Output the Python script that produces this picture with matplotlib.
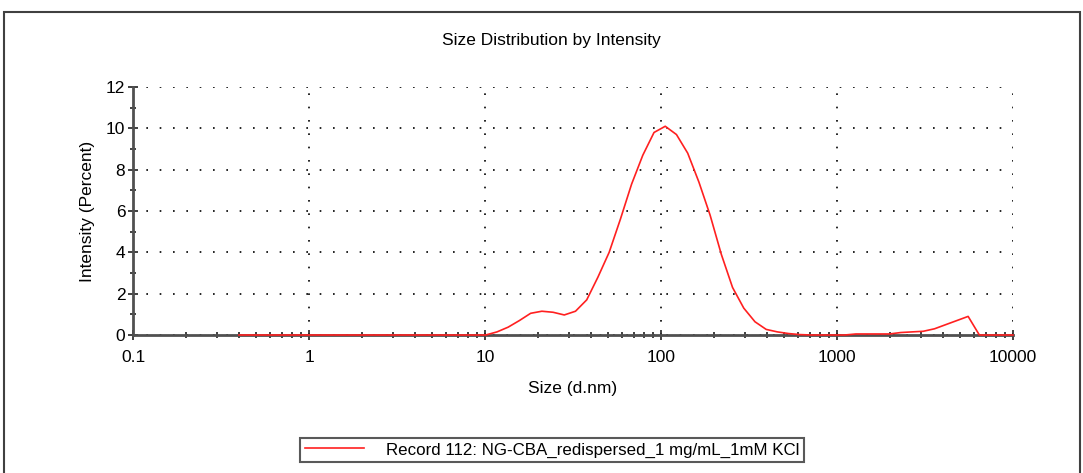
import matplotlib
matplotlib.use("Agg")
import matplotlib.pyplot as plt
from matplotlib.patches import Rectangle
from matplotlib.ticker import FixedLocator, NullFormatter, FixedFormatter

plt.rcParams['font.family'] = ['Liberation Sans', 'DejaVu Sans']

title = "Size Distribution by Intensity"
xlabel = "Size (d.nm)"
ylabel = "Intensity (Percent)"
legend_label = "Record 112: NG-CBA_redispersed_1 mg/mL_1mM KCl"

sizes = [0.4, 0.4632, 0.5365, 0.6213, 0.7195, 0.8332, 0.9649, 1.117, 1.294, 1.499,
         1.736, 2.01, 2.328, 2.696, 3.122, 3.615, 4.187, 4.849, 5.615, 6.503,
         7.531, 8.721, 10.1, 11.7, 13.54, 15.69, 18.17, 21.04, 24.36, 28.21,
         32.67, 37.84, 43.82, 50.75, 58.77, 68.06, 78.82, 91.28, 105.7, 122.4,
         141.8, 164.2, 190.1, 220.2, 255.0, 295.3, 342.0, 396.1, 458.7, 531.2,
         615.1, 712.4, 825.0, 955.4, 1106, 1281, 1484, 1718, 1990, 2305,
         2669, 3091, 3580, 4145, 4801, 5560, 6439, 7456, 8635, 10000]
intensity = [0, 0, 0, 0, 0, 0, 0, 0, 0, 0,
             0, 0, 0, 0, 0, 0, 0, 0, 0, 0,
             0, 0, 0, 0.15, 0.38, 0.7, 1.05, 1.15, 1.1, 0.97,
             1.15, 1.7, 2.8, 4.0, 5.6, 7.3, 8.7, 9.8, 10.1, 9.7,
             8.8, 7.4, 5.8, 3.9, 2.3, 1.3, 0.64, 0.27, 0.15, 0.07,
             0.02, 0, 0, 0, 0, 0.05, 0.05, 0.05, 0.05, 0.12,
             0.15, 0.18, 0.3, 0.5, 0.7, 0.9, 0, 0, 0, 0]

xticks = [0.1, 1, 10, 100, 1000, 10000]
xticklabels = ["0.1", "1", "10", "100", "1000", "10000"]
yticks = [0, 2, 4, 6, 8, 10, 12]

W, H = 1083, 473
fig = plt.figure(figsize=(W / 100, H / 100), dpi=100)
fig.patch.set_facecolor('white')

# outer frame
fig.patches.append(Rectangle((4 / W, -0.05), (1080 - 4) / W, 1.05 - 12 / H,
                             transform=fig.transFigure, fill=False,
                             edgecolor='#404040', linewidth=1.5))

ax = fig.add_axes([133 / W, 1 - 335 / H, 880 / W, 248 / H])
ax.set_xscale('log')
ax.set_xlim(0.1, 10000)
ax.set_ylim(0, 12)

ax.plot(sizes, intensity, color='#FF2020', linewidth=1.2, label=legend_label,
        zorder=3, clip_on=False)

for s in ['top', 'right']:
    ax.spines[s].set_visible(False)
for s in ['left', 'bottom']:
    ax.spines[s].set_color('#505050')
    ax.spines[s].set_linewidth(2)

ax.xaxis.set_major_locator(FixedLocator(xticks))
ax.xaxis.set_major_formatter(FixedFormatter(xticklabels))
minors = [m * 10.0 ** e for e in range(-1, 4) for m in range(2, 10)]
ax.xaxis.set_minor_locator(FixedLocator(minors))
ax.xaxis.set_minor_formatter(NullFormatter())
ax.yaxis.set_major_locator(FixedLocator(yticks))
ax.yaxis.set_minor_locator(FixedLocator([1, 3, 5, 7, 9, 11]))

ax.tick_params(axis='both', which='major', direction='inout', length=7, width=1.2,
               color='#202020', labelsize=12.5)
ax.tick_params(axis='x', which='major', pad=7)
ax.tick_params(axis='y', which='major', pad=2)
ax.tick_params(axis='both', which='minor', direction='inout', length=4, width=1.2,
               color='#202020')

ax.grid(True, which='major', linestyle=(0, (1, 7)), color='black', linewidth=1.2)
ax.set_axisbelow(True)

ax.set_xlabel(xlabel, fontsize=12.5, labelpad=12)
ax.set_ylabel(ylabel, fontsize=12.5, labelpad=8)

fig.text(551 / W, 1 - 41 / H, title, ha='center', va='center', fontsize=12.5)

leg = ax.legend(loc='center', bbox_to_anchor=(552 / W, 1 - 450 / H),
                bbox_transform=fig.transFigure, fontsize=12.2, frameon=True,
                fancybox=False, handlelength=3.5, handletextpad=1.3,
                borderpad=0.25, borderaxespad=0)
leg.get_frame().set_edgecolor('#303030')
leg.get_frame().set_linewidth(1.5)

fig.savefig('out.png', dpi=100, facecolor='white')
